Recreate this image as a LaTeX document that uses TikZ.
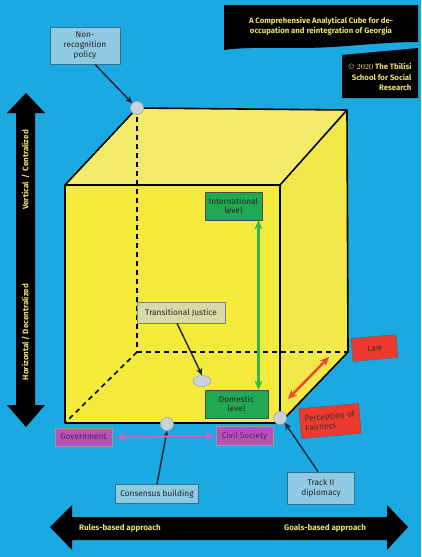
\documentclass[tikz,border=0pt]{standalone}
\usepackage{fontspec}
\setmainfont{Fira Sans}
\usetikzlibrary{arrows.meta,shapes.geometric}
\definecolor{bgblue}{HTML}{1AA9E1}
\definecolor{cubefront}{HTML}{F3EA3C}
\definecolor{cubetop}{HTML}{F2EC6A}
\definecolor{cubeside}{HTML}{F1E84A}
\definecolor{lblue}{HTML}{8FC9E2}
\definecolor{lbluedraw}{HTML}{2F7393}
\definecolor{gbox}{HTML}{22A954}
\definecolor{pbox}{HTML}{B652B6}
\definecolor{ptext}{HTML}{5A1A6A}
\definecolor{rbox}{HTML}{EE3A2E}
\definecolor{tjbox}{HTML}{D8DAA6}
\definecolor{ytext}{HTML}{EDE370}
\definecolor{arrowpink}{HTML}{C466C6}
\definecolor{arrowgreen}{HTML}{2DBA55}
\definecolor{arrowred}{HTML}{F0442C}
\definecolor{dotgrey}{HTML}{C9D1DA}
\definecolor{navy}{HTML}{14233A}
\tikzset{
  boxfont/.style={font=\fontsize{8.3}{9.6}\selectfont},
  lbox/.style={draw=lbluedraw, fill=lblue, line width=0.8pt, align=center, inner sep=1pt, boxfont, text=black!85},
  gboxst/.style={draw=black!70, fill=gbox, line width=0.6pt, align=center, inner sep=1pt, boxfont, text=black!85},
  pboxst/.style={draw=black!40, fill=pbox, line width=0.6pt, inner sep=1pt, boxfont, text=ptext},
  rboxst/.style={draw=black!60, fill=rbox, line width=0.6pt, align=left, inner sep=2pt, boxfont, text=black!80},
  tjst/.style={draw=black!50, fill=tjbox, line width=0.6pt, inner sep=1pt, boxfont, text=black!85},
  dot/.style={circle, draw=gray!70, fill=dotgrey, line width=0.6pt, minimum size=13pt, inner sep=0pt},
  edge/.style={line width=1.6pt, black, line join=round},
  hidden/.style={line width=1.6pt, black, dashed, dash pattern=on 5pt off 4pt},
  pointer/.style={line width=1.4pt, navy, -{Stealth[length=7pt,width=6pt]}},
  axistext/.style={text=ytext, font=\bfseries\fontsize{8}{9}\selectfont}
}
\begin{document}
\begin{tikzpicture}[x=1pt,y=-1pt]
\fill[bgblue] (0,0) rectangle (421,557);
\useasboundingbox (0,0) rectangle (421,557);

% cube corners
\coordinate (A) at (65,185);
\coordinate (B) at (280,185);
\coordinate (C) at (280,423);
\coordinate (D) at (65,423);
\coordinate (E) at (137,108);
\coordinate (F) at (347,110);
\coordinate (G) at (348,352);
\coordinate (H) at (137,352);

\fill[cubetop] (A) -- (E) -- (F) -- (B) -- cycle;
\fill[cubeside] (B) -- (F) -- (G) -- (C) -- cycle;
\fill[cubefront] (A) -- (B) -- (C) -- (D) -- cycle;
\draw[hidden] (E) -- (H);
\draw[hidden] (H) -- (G);
\draw[hidden] (H) -- (D);
\draw[edge] (A) -- (E) -- (F) -- (B);
\draw[edge] (F) -- (G) -- (C);
\draw[edge] (A) -- (B) -- (C) -- (D) -- cycle;

% big black axes
\fill[black] (26,93) -- (45,113) -- (35,113) -- (35,405) -- (45,405) -- (26,427)
  -- (7,405) -- (16,405) -- (16,113) -- (7,113) -- cycle;
\node[axistext, rotate=90] (vtop) at (25.5,170) {Vertical \,/\, Centralized};
\node[axistext, rotate=90] (vbot) at (25.5,332) {Horizontal / Decentralized};
\fill[black] (50,527) -- (72,505) -- (72,517) -- (387,517) -- (387,505) -- (408,527)
  -- (387,550) -- (387,540) -- (72,540) -- (72,550) -- cycle;
\node[axistext] (rules) at (120,528) {Rules-based approach};
\node[axistext] (goals) at (325,528) {Goals-based approach};

% title boxes
\fill[black] (224,5) -- (418,5) -- (418,42) .. controls (380,42) and (340,48) .. (300,48)
  .. controls (270,48) and (245,47) .. (224,50) -- cycle;
\node[text=ytext, align=center, font=\bfseries\fontsize{7.8}{10}\selectfont] (title) at (321,26)
  {A Comprehensive Analytical Cube for de-\\occupation and reintegration of Georgia};
\fill[black] (342,55) -- (418,48) -- (418,98) -- (342,98) -- cycle;
\node[text=ytext, align=right, anchor=east, font=\bfseries\fontsize{7.8}{10.4}\selectfont] (copy) at (415,77)
  {{\mdseries\fontspec{Latin Modern Roman}\color{ytext!80}\textcopyright\ 2020} The Tbilisi\\School for Social\\Research};

% dots
\node[dot] (dE) at (137,108) {};
\node[dot] (dCons) at (167,424) {};
\node[dot] (dC) at (280,418) {};
\node[ellipse, draw=gray!70, fill=dotgrey, line width=0.6pt, minimum width=18pt, minimum height=11pt, inner sep=0pt] (dTJ) at (202,381) {};

% boxes
\node[lbox, minimum width=70pt, minimum height=37pt] (nonrec) at (85,45.5) {Non-\\recognition\\policy};
\node[gboxst, minimum width=57pt, minimum height=28pt] (intl) at (233.5,206) {International\\level};
\node[gboxst, minimum width=63pt, minimum height=28pt] (dom) at (236.5,404) {Domestic\\level};
\node[tjst, minimum width=88pt, minimum height=21pt] (tj) at (181,312.5) {Transitional Justice};
\node[rboxst, minimum width=45pt, minimum height=23pt, rotate=5] (law) at (374.5,348) {Law};
\node[rboxst, minimum width=60pt, minimum height=30pt, rotate=5] (perc) at (330,421) {Perception of\\Fairness};
\node[pboxst, minimum width=57pt, minimum height=18pt] (gov) at (83.5,437) {Government};
\node[pboxst, minimum width=57pt, minimum height=19pt] (civ) at (244.5,436) {Civil Society};
\node[lbox, minimum width=83pt, minimum height=19pt] (cons) at (157,494) {Consensus building};
\node[lbox, minimum width=67pt, minimum height=32pt] (track) at (321,488) {Track II\\diplomacy};

% connectors
\draw[pointer] (nonrec.south) ++(10,0) coordinate (nr0) -- (dE.north west);
\draw[pointer] (tj.south) ++(-4,0) coordinate (tj0) -- (dTJ.north);
\draw[pointer] (cons.north) -- (dCons.south);
\draw[pointer] (track.north) ++(-3,0) coordinate (tr0) -- (dC.south east);
\draw[line width=2.6pt, arrowgreen, {Stealth[length=9pt,width=8pt]}-{Stealth[length=9pt,width=8pt]}]
  ([xshift=25pt]intl.south) -- ([xshift=22pt]dom.north);
\draw[line width=2.4pt, arrowred, {Stealth[length=9pt,width=8pt]}-{Stealth[length=9pt,width=8pt]}]
  (329,357) coordinate (r1) -- (288,399) coordinate (r2);
\draw[line width=2.2pt, arrowpink, {Stealth[length=9pt,width=8pt]}-{Stealth[length=9pt,width=8pt]}]
  ([xshift=4pt]gov.east) -- ([xshift=-1pt]civ.west);
\end{tikzpicture}
\end{document}
